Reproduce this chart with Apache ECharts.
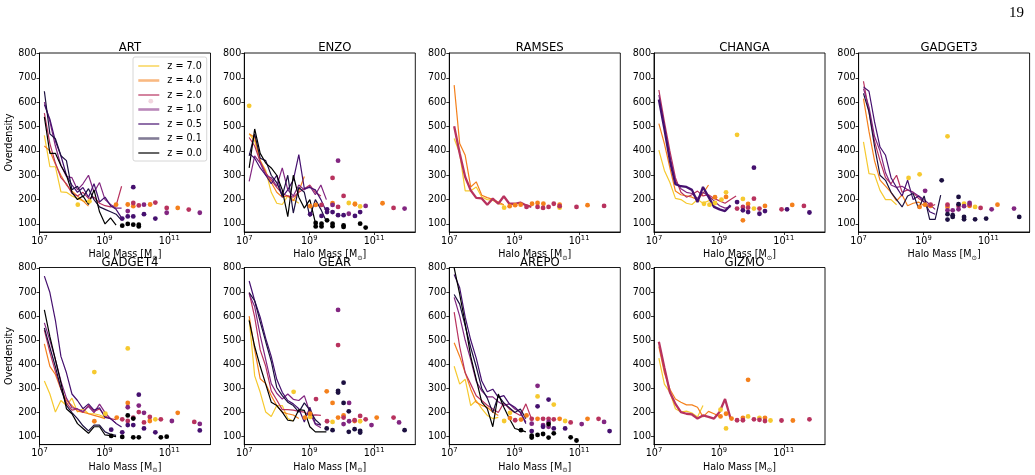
<!DOCTYPE html>
<html><head><meta charset="utf-8">
<script src="https://cdn.jsdelivr.net/npm/echarts@6/dist/echarts.min.js"></script>
<style>html,body{margin:0;padding:0;background:#fff}#c{width:1035px;height:475px}</style>
</head><body><div id="c"></div>
<script>
// ---------- DATA ----------
const panelNames = ['ART','ENZO','RAMSES','CHANGA','GADGET3','GADGET4','GEAR','AREPO','GIZMO'];
const zLabels = ['z = 7.0','z = 4.0','z = 2.0','z = 1.0','z = 0.5','z = 0.1','z = 0.0'];
const xTickExps = [7, 9, 11];
const yTicks = [100,200,300,400,500,600,700,800];
// log10(halo mass) grid used by the binned profile lines
const lineLogM = [7.15,7.32,7.49,7.66,7.83,8.0,8.17,8.34,8.51,8.68,8.85,9.02,9.19,9.36,9.53];

// lines per panel, ordered z = 7.0, 4.0, 2.0, 1.0, 0.5, 0.1, 0.0 (null = absent)
const ART_lines = [
 [464,335,335,232,230,215,205,195,190],
 [420,400,345,300,260,235,215,195,173],
 [555,430,350,290,265,225,215,230,205,210,185,175,170,175,255],
 [600,520,420,340,295,290,240,265,300,230,270,200,180,165,165],
 [590,530,440,380,300,260,230,250,210,265,190,210,175,160,125],
 [645,470,450,380,360,240,255,210,245,200,170,160,150,140,115],
 [540,390,390,340,300,230,200,215,180,240,150,100,125,95]
];
const ENZO_lines = [
 [470,440,360,320,230,185,180,215,200,185],
 [470,455,360,310,270,230,210,215,195,235,295],
 [455,420,355,310,280,250,225,215,210,230,245,260,230,215],
 [275,380,350,300,290,255,330,240,215,260,240,255,220,260,200],
 [390,370,330,300,265,300,210,240,280,385,245,250,240,200,150],
 [380,470,370,360,300,270,215,300,145,250,230,130,200,160,110],
 [330,490,390,350,330,300,240,130,300,210,165,200,105]
];
const RAMSES_lines = [
 [451,390,236,236,252,211,200,197,183,177],
 [670,430,382,252,273,218,208,201,190,179],
 [501,390,293,238,207,205,179,204,183,214,183,183,188,177,170],
 null, null, null, null
];
const CHANGA_lines = [
 [403,320,270,205,200,185,180,200,185,195,210],
 [512,430,330,235,220,215,210,200,225,260],
 [650,520,400,290,230,210,220,235,215,220,205,195,185,200,215],
 [630,500,380,275,245,230,225,205,230,215,195,175,165,170],
 [611,490,360,263,255,252,240,190,252,211,170,160,153,177],
 null, null
];
const GADGET3_lines = [
 [437,307,303,238,200,200,179],
 [615,480,360,280,255,230,195,220,175,185,190,175,170],
 [686,560,440,360,290,265,300,230,240,230,205,190,170,180],
 [656,580,460,400,310,260,250,255,240,230,215,200,180,160],
 [663,645,520,416,382,290,250,215,280,200,215,190,150,140],
 [636,560,420,300,279,230,200,170,215,225,163,215,119,119,218],
 null
];
const GADGET4_lines = [
 [331,277,202,250,229,260,202,216,195,195,190,180],
 [485,392,358,297,250,229,206,202,195,188,182,175],
 [542,450,370,300,240,210,215,200,230,205,215,185,175,170],
 [572,500,420,330,260,220,215,205,225,200,235,200,175,155],
 [766,698,583,433,365,277,250,216,236,210,220,180,175,155,140],
 [551,470,390,300,230,200,175,145,124,148,148,120,110,105],
 [626,515,420,324,216,195,154,134,114,141,141,107,104,100]
];
const GEAR_lines = [
 [589,352,284,202,184,229,229,175,165],
 [600,460,340,320,270,229,202,195,190,175],
 [698,596,460,392,290,252,212,212,210,205,202,188,190,188],
 [691,640,520,420,320,280,256,277,255,250,270,200,150,137],
 [746,664,596,508,433,338,284,250,236,216,161,222,154,148],
 [698,664,576,494,413,304,270,243,229,202,240,210,170,150],
 [583,474,392,318,243,229,202,168,165,212,209,141,120,120,120]
];
const AREPO_lines = [
 [392,318,338,229,250,216,188,175,180],
 [490,433,365,297,243,230,222,202,188],
 [617,474,365,318,270,250,230,215,200,240,215,200,188,236,175],
 [678,600,500,420,330,290,265,265,245,230,236,215,202,161],
 [773,718,596,501,426,331,286,297,263,270,236,222,200,154],
 [690,650,560,470,390,300,260,200,270,240,220,200,215,175],
 [800,691,569,433,338,243,216,141,277,222,175,134,127,120]
];
const GIZMO_lines = [
 [426,318,284,216,202,206,198,182,229],
 [474,365,297,256,243,232,232,222,182,205,195,184],
 [494,386,284,236,202,195,192,175,188,182,175,202,256,175],
 null, null, null, null
];

// halo points: [z index, log10(M), overdensity]
const ART_points = [[0,8.18,179],[0,8.54,193],[1,9.36,179],[1,9.72,180],[1,9.89,173],[1,10.41,180],[1,11.26,166],
 [2,9.89,186],[2,10.06,176],[2,10.57,188],[2,10.92,166],[2,11.6,159],[2,10.43,604],
 [3,9.72,153],[3,10.22,179],[3,10.92,146],[3,11.94,146],
 [4,9.89,251],[4,9.55,122],[4,9.72,131],[4,9.89,131],[4,10.22,140],[4,10.57,122],
 [6,9.55,93],[6,9.72,100],[6,9.89,97],[6,10.06,97],[6,10.06,90]];
const ENZO_points = [[0,7.15,585],[0,10.22,186],[0,10.41,183],[0,10.57,172],
 [1,9.03,173],[1,9.2,178],[1,9.72,185],[1,10.41,181],[1,11.26,185],
 [2,9.72,289],[2,10.06,215],[2,9.89,170],[2,11.6,166],[2,9.38,178],
 [3,9.89,360],[3,9.72,178],[3,10.74,174],[3,10.22,142],[3,11.94,163],
 [4,9.03,140],[4,9.38,133],[4,9.55,149],[4,9.72,149],[4,9.89,136],[4,10.06,136],[4,10.41,133],[4,10.57,149],[4,9.55,160],
 [6,9.2,104],[6,9.2,90],[6,9.38,101],[6,9.38,90],[6,9.55,115],[6,9.72,101],[6,9.72,91],[6,10.06,94],[6,10.06,88],[6,10.57,101],[6,10.74,85]];
const RAMSES_points = [[0,8.69,167],[0,10.4,167],
 [1,8.86,173],[1,9.03,177],[1,9.2,179],[1,9.55,183],[1,9.72,186],[1,9.9,183],[1,10.4,179],[1,11.26,177],
 [2,9.38,170],[2,9.72,170],[2,9.89,166],[2,10.06,170],[2,10.22,183],[2,10.4,173],[2,10.92,170],[2,11.77,174]];
const CHANGA_points = [[0,9.56,466],[0,9.08,200],[0,9.22,230],[0,8.88,186],[0,8.54,183],[0,8.71,179],[0,9.74,203],[0,10.08,163],
 [1,8.88,210],[1,9.22,211],[1,9.74,115],[1,9.9,182],[1,10.42,174],[1,11.26,178],
 [2,9.56,163],[2,9.74,170],[2,9.9,167],[2,10.08,204],[2,10.25,163],[2,10.93,160],[2,11.62,174],
 [4,10.08,331],[4,9.56,190],[4,9.74,156],[4,9.9,149],[4,10.25,142],[4,10.42,153],[4,11.1,160],[4,11.79,147]];
const GADGET3_points = [[0,8.54,289],[0,8.88,304],[0,9.74,460],[0,10.25,183],[0,10.59,170],
 [1,8.88,170],[1,9.05,179],[1,9.22,174],[1,9.74,170],[1,10.42,174],[1,11.28,179],
 [2,9.22,179],[2,9.74,179],[2,10.08,174],[2,10.42,179],[2,10.76,166],
 [3,9.05,236],[3,9.74,156],[3,9.9,156],[3,10.08,160],[3,10.25,173],[3,10.42,186],[3,11.1,160],[3,11.79,163],
 [5,9.56,279],[5,9.74,140],[5,9.9,129],[5,10.08,211],[5,10.08,181],[5,10.25,129],[5,10.25,119],[5,10.59,119],[5,10.93,122],[5,11.95,129],[5,9.74,118],[5,9.9,136]];
const GADGET4_points = [[0,8.69,368],[0,9.72,466],[0,9.03,195],[0,10.57,172],
 [1,8.69,164],[1,9.38,179],[1,9.72,240],[1,10.4,165],[1,11.26,199],
 [2,9.55,172],[2,9.72,165],[2,9.89,179],[2,10.06,202],[2,10.22,159],[2,10.4,182],[2,10.74,172],[2,11.77,161],
 [3,9.72,222],[3,10.06,229],[3,10.22,199],[3,11.08,165],[3,11.94,153],
 [4,9.21,129],[4,9.55,118],[4,9.72,148],[4,9.89,148],[4,10.06,274],[4,10.22,134],[4,10.57,118],[4,11.94,126],
 [6,9.21,103],[6,9.55,99],[6,9.72,188],[6,9.89,97],[6,10.06,97],[6,10.74,97],[6,10.92,100],[6,9.89,175]];
const GEAR_points = [[0,8.52,286],[0,9.03,182],[0,10.57,164],[0,9.72,161],
 [1,8.87,179],[1,9.03,195],[1,9.54,288],[1,9.72,240],[1,9.89,179],[1,10.06,188],[1,10.4,165],[1,11.08,179],
 [2,9.21,256],[2,9.55,164],[2,9.89,480],[2,10.06,179],[2,10.4,168],[2,10.57,186],[2,10.74,172],[2,11.6,179],
 [3,9.89,626],[3,10.06,152],[3,10.23,240],[3,10.23,164],[3,10.92,148],[3,11.77,159],
 [5,9.89,290],[5,9.89,283],[5,10.06,324],[5,10.06,240],[5,10.22,205],[5,10.22,120],[5,10.4,131],[5,10.57,124],[5,10.57,117],[5,11.94,127],[5,9.72,127],[5,9.54,134]];
const AREPO_points = [[0,8.69,165],[0,8.87,199],[0,9.72,267],[0,10.22,233],[0,10.57,165],
 [1,8.87,177],[1,9.21,171],[1,9.38,188],[1,9.72,174],[1,10.4,174],[1,11.26,174],
 [2,9.03,168],[2,9.54,174],[2,9.89,174],[2,10.06,174],[2,10.22,172],[2,10.74,159],[2,11.6,174],
 [3,9.72,311],[3,9.54,154],[3,9.89,148],[3,10.06,161],[3,10.06,141],[3,11.08,152],[3,11.77,161],
 [4,9.72,226],[4,10.06,254],[4,9.54,123],[4,9.89,141],[4,10.22,134],[4,10.57,134],[4,11.94,123],
 [6,9.21,127],[6,9.54,104],[6,9.54,96],[6,9.72,107],[6,9.89,111],[6,10.06,152],[6,10.06,96],[6,10.22,114],[6,10.74,97],[6,10.92,84]];
const GIZMO_points = [[0,9.05,212],[0,9.22,134],[0,9.9,184],[0,10.25,178],[0,10.59,167],
 [1,9.05,184],[1,9.22,195],[1,9.39,175],[1,9.74,178],[1,9.9,336],[1,10.42,178],[1,11.28,167],
 [2,9.56,168],[2,9.74,168],[2,10.08,172],[2,10.25,170],[2,10.42,165],[2,10.93,167],[2,11.79,172]];

// ---------- STYLE / LAYOUT ----------
const panelLines = [ART_lines,ENZO_lines,RAMSES_lines,CHANGA_lines,GADGET3_lines,GADGET4_lines,GEAR_lines,AREPO_lines,GIZMO_lines];
const panelPoints = [ART_points,ENZO_points,RAMSES_points,CHANGA_points,GADGET3_points,GADGET4_points,GEAR_points,AREPO_points,GIZMO_points];
const zColors = ['#f6c92f','#f4801c','#b8325e','#822681','#45106f','#1c1040','#000000'];
const thick = {2:[2], 3:[4], 8:[2]};
const FONT = 'DejaVu Sans';
const GW = 171, GH = 179;
const lefts = [39.5, 244.3, 449.3, 654, 858.6];
const tops = [53, 267.5];

const grids = [], xAxes = [], yAxes = [], titles = [], series = [];
panelNames.forEach((name, i) => {
  const row = i < 5 ? 0 : 1, col = i < 5 ? i : i - 5;
  const L = lefts[col], T = tops[row];
  grids.push({left: L, top: T, width: GW, height: GH, show: true, borderColor: '#000', borderWidth: 0.9, backgroundColor: 'transparent'});
  titles.push({text: name, left: L + GW/2, top: T - 16, textAlign: 'center',
    textStyle: {fontFamily: FONT, fontSize: 11.7, fontWeight: 'normal', color: '#000'}});
  xAxes.push({type: 'value', gridIndex: i, min: 7, max: 12.27,
    axisLine: {show: true, onZero: false, lineStyle: {color: '#000', width: 0.9}},
    axisTick: {show: true, length: 3, customValues: xTickExps, lineStyle: {color: '#000', width: 0.8}},
    axisLabel: {customValues: xTickExps, margin: 3, color: '#000', fontFamily: FONT,
      formatter: v => '{a|10}{b|' + v + '}',
      rich: {a: {fontSize: 9.6, fontFamily: FONT, color: '#000', lineHeight: 12},
             b: {fontSize: 6.8, fontFamily: FONT, color: '#000', lineHeight: 6, padding: [0,0,6,0]}}},
    splitLine: {show: false},
    name: 'Halo Mass [M{s|⊙}]', nameLocation: 'middle', nameGap: 8.5,
    nameTextStyle: {fontFamily: FONT, fontSize: 9.6, color: '#000',
      rich: {s: {fontSize: 6.5, fontFamily: FONT, color: '#000', lineHeight: 6, padding: [6,0,0,0]}}}
  });
  const ya = {type: 'value', gridIndex: i, min: 67, max: 802,
    axisLine: {show: true, onZero: false, lineStyle: {color: '#000', width: 0.9}},
    axisTick: {show: true, length: 3, customValues: yTicks, lineStyle: {color: '#000', width: 0.8}},
    axisLabel: {customValues: yTicks, margin: 3, color: '#000', fontFamily: FONT, fontSize: 9.6},
    splitLine: {show: false}};
  if (col === 0) {
    ya.name = 'Overdensity'; ya.nameLocation = 'middle'; ya.nameGap = 23;
    ya.nameTextStyle = {fontFamily: FONT, fontSize: 9.6, color: '#000'};
  }
  yAxes.push(ya);

  panelLines[i].forEach((vals, k) => {
    if (!vals) return;
    const isThick = thick[i] && thick[i].includes(k);
    series.push({type: 'line', name: zLabels[k], xAxisIndex: i, yAxisIndex: i,
      data: vals.map((v, j) => [lineLogM[j], v]), symbol: 'none', silent: true, animation: false,
      color: zColors[k], lineStyle: {color: zColors[k], width: isThick ? 2.3 : 1.2}, z: 2 + k * 0.01});
  });
  series.push({type: 'scatter', name: 'pts' + i, xAxisIndex: i, yAxisIndex: i, symbolSize: 4.8,
    silent: true, animation: false, z: 3,
    data: panelPoints[i].map(p => ({value: [p[1], p[2]], itemStyle: {color: zColors[p[0]], opacity: 1}}))});
});

const legendData = zLabels.map((n, k) => {
  const faint = (k === 1 || k === 3 || k === 5);
  return {name: n, itemStyle: {color: 'rgba(0,0,0,0)', opacity: 0, borderWidth: 0},
    lineStyle: {color: zColors[k], width: faint ? 2.6 : 1.2, opacity: faint ? 0.55 : 1}};
});

const chart = echarts.init(document.getElementById('c'), null, {renderer: 'canvas'});
chart.setOption({
  animation: false,
  backgroundColor: '#fff',
  title: titles,
  grid: grids, xAxis: xAxes, yAxis: yAxes, series: series,
  legend: {data: legendData, orient: 'vertical', left: 133, top: 57, itemWidth: 21, itemHeight: 10, itemGap: 4.5,
    padding: [4, 5, 3, 4], backgroundColor: 'rgba(255,255,255,0.8)', borderColor: '#cccccc', borderWidth: 0.8, borderRadius: 2,
    selectedMode: false, textStyle: {fontFamily: FONT, fontSize: 9.6, color: '#000', padding: [0,0,0,3]}},
  graphic: [{type: 'text', left: 1009, top: 6, style: {text: '19', font: '15px "Liberation Serif"', fill: '#000'}}]
});
</script></body></html>
